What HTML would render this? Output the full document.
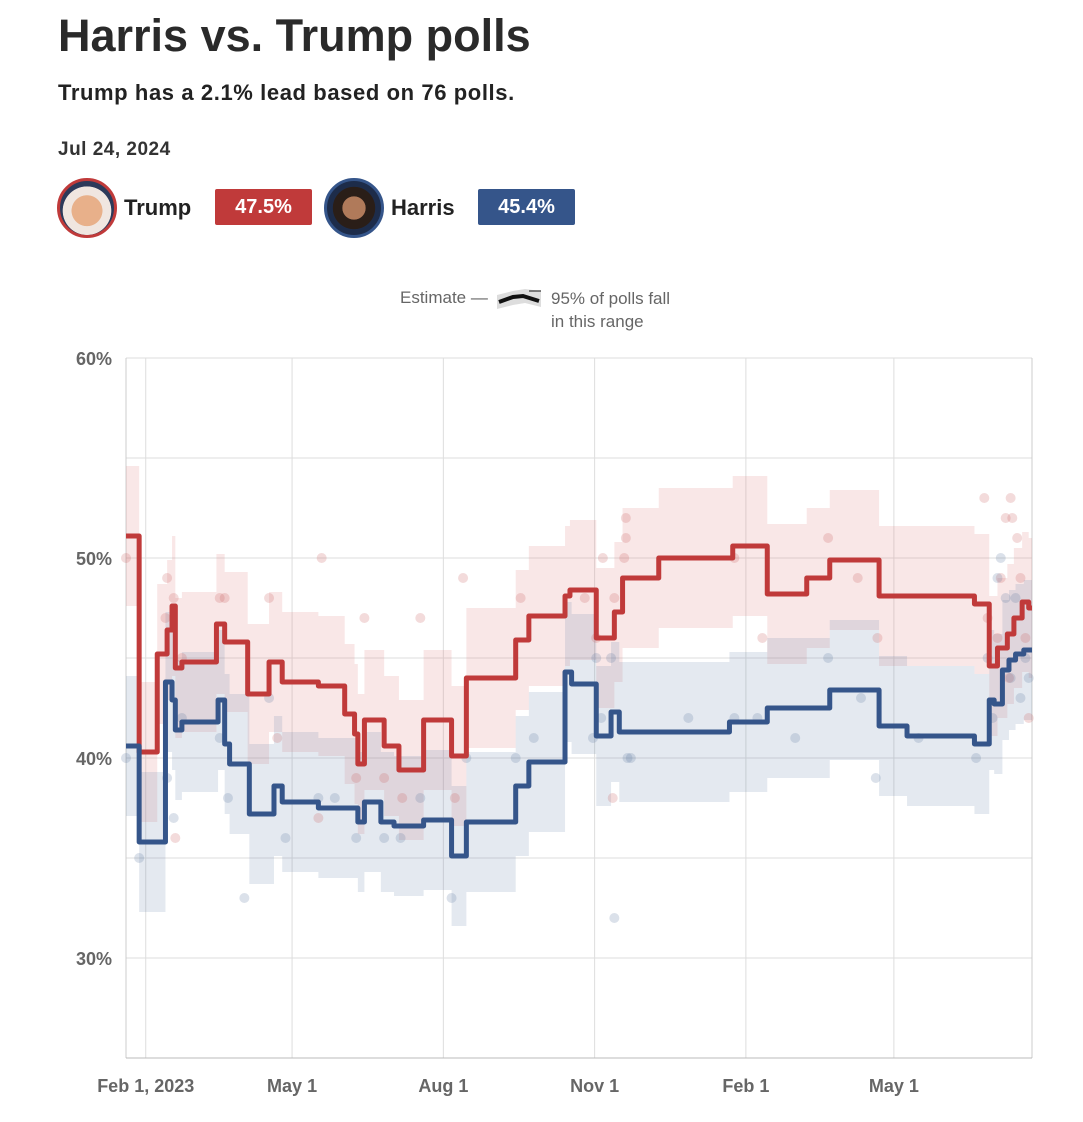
<!DOCTYPE html>
<html><head><meta charset="utf-8">
<style>
body{margin:0;background:#fff;font-family:"Liberation Sans",sans-serif;color:#333;}
#wrap{position:relative;width:1083px;height:1122px;overflow:hidden;}
.abs{position:absolute;white-space:nowrap;}
.badge{position:absolute;color:#fff;font-weight:bold;font-size:20px;text-align:center;line-height:36px;height:36px;border-radius:2px;}
.av{position:absolute;width:54px;height:54px;border-radius:50%;border:3px solid;overflow:hidden;}
</style></head><body>
<div id="wrap">
<div class="abs" style="left:58px;top:10px;font-size:45px;font-weight:bold;color:#2a2a2a">Harris vs. Trump polls</div>
<div class="abs" style="left:58px;top:80px;font-size:22px;font-weight:bold;color:#222;letter-spacing:0.6px">Trump has a 2.1% lead based on 76 polls.</div>
<div class="abs" style="left:58px;top:139px;font-size:19px;font-weight:bold;color:#333;letter-spacing:0.5px">Jul 24, 2024</div>
<div class="av" style="left:57px;top:178px;border-color:#c03a3a;background:radial-gradient(circle at 50% 55%,#e8b08a 0 38%,#f0e6e0 39% 60%,#2d3a5a 61%)"></div>
<div class="abs" style="left:124px;top:195px;font-size:22px;font-weight:bold;color:#222">Trump</div>
<div class="badge" style="left:215px;top:189px;width:97px;background:#c03a3a">47.5%</div>
<div class="av" style="left:324px;top:178px;border-color:#35558a;background:radial-gradient(circle at 50% 50%,#b07a5a 0 30%,#2a1e18 31% 55%,#1d2c4a 56%)"></div>
<div class="abs" style="left:391px;top:195px;font-size:22px;font-weight:bold;color:#222">Harris</div>
<div class="badge" style="left:478px;top:189px;width:97px;background:#35558a">45.4%</div>
<div class="abs" style="left:400px;top:288px;font-size:17px;color:#666">Estimate —</div>
<svg class="abs" style="left:495px;top:287px" width="50" height="24"><path d="M2,8 L18,4 L30,2 L46,4 L46,20 L30,16 L18,18 L2,22Z" fill="#ddd"/><path d="M4,15 L18,10 L28,9 L44,14" stroke="#111" stroke-width="4" fill="none"/><line x1="34" y1="4" x2="46" y2="4" stroke="#555" stroke-width="1.5"/></svg>
<div class="abs" style="left:551px;top:287px;font-size:17px;color:#666;line-height:23px;white-space:normal;width:170px">95% of polls fall<br>in this range</div>
<svg id="chart" class="abs" style="left:0;top:0" width="1083" height="1122"></svg>
</div>
<script>
const trumpDays=[-12,-4,7,13,16,18,22,43,48,62,75,83,105,121,127,129,133,145,154,169,186,195,225,233,255,258,274,285,290,312,357,378,402,416,446,504,513,518,524,528,533,537];
const trumpVals=[51.1,40.3,45.2,46.4,47.6,44.5,44.8,46.7,45.8,43.2,44.8,43.8,43.6,42.2,41.2,39.7,41.9,40.6,39.4,41.9,40.1,44.0,45.9,47.1,48.1,48.4,46.0,47.3,49.0,50.0,50.6,48.2,49.0,49.9,48.1,47.7,44.6,45.5,46.2,47.0,47.8,47.5];
const harrisDays=[-12,-4,12,16,18,22,44,48,51,63,78,83,105,129,133,143,151,169,186,195,225,233,255,259,274,283,288,355,378,416,446,463,504,513,516,521,525,529,534];
const harrisVals=[40.6,35.8,43.8,42.9,41.4,41.8,42.9,40.7,39.7,37.2,38.6,37.8,37.5,36.8,37.8,36.8,36.6,36.9,35.1,36.8,38.6,39.8,44.3,43.7,41.1,42.3,41.3,41.8,42.5,43.4,41.6,41.1,40.7,42.9,42.7,44.4,44.9,45.2,45.4];
const bandHalf=3.5;
const trumpPollDays=[-12,12,13,17,18,22,45,48,75,80,105,107,128,133,145,156,167,188,193,228,267,274,278,284,285,291,292,292,358,375,415,433,445,510,512,520,523,526,530,532,535,537,525,518,527];
const trumpPollVals=[50,47,49,48,36,45,48,48,48,41,37,50,39,47,39,38,47,38,49,48,48,46,50,38,48,50,51,52,50,46,51,49,46,53,47,49,52,53,51,49,46,42,44,46,52];
const harrisPollDays=[-12,-4,13,17,22,45,50,60,75,85,105,115,128,145,155,167,186,195,225,236,272,274,277,285,283,295,293,330,358,372,395,415,435,444,470,505,512,515,518,520,523,526,529,532,535,537];
const harrisPollVals=[40,35,39,37,42,41,38,33,43,36,38,38,36,36,36,38,33,40,40,41,41,45,42,32,45,40,40,42,42,42,41,45,43,39,41,40,45,42,49,50,48,44,48,43,45,44];
const yTicks=[30,40,50,60];
const yGrid=[30,35,40,45,50,55,60];
const xTickDays=[0,89,181,273,365,455];
const xTickLabels=["Feb 1, 2023","May 1","Aug 1","Nov 1","Feb 1","May 1"];
const X0=-12,X1=539,PL=126,PR=1032;
const xs=d=>PL+(d-X0)*(PR-PL)/(X1-X0);
const ys=v=>358+(60-v)*20;
const svg=document.getElementById('chart');const NS='http://www.w3.org/2000/svg';
function mk(t,a){const e=document.createElementNS(NS,t);for(const k in a)e.setAttribute(k,a[k]);svg.appendChild(e);return e;}
yGrid.forEach(v=>{const l=mk('line',{x1:PL,x2:PR,y1:ys(v),y2:ys(v),stroke:'#ddd','stroke-width':1});

});
xTickDays.forEach((d,i)=>{const l=mk('line',{x1:xs(d),x2:xs(d),y1:358,y2:1058,stroke:'#ddd','stroke-width':1});


const t=mk('text',{x:xs(d),y:1092,'text-anchor':'middle','font-size':18,'font-weight':'bold',fill:'#666','font-family':'Liberation Sans'});t.textContent=xTickLabels[i];

});
[PL,PR].forEach(x=>{const l=mk('line',{x1:x,x2:x,y1:358,y2:1058,stroke:'#ccc'});

});
const ax=mk('line',{x1:PL,x2:PR,y1:1058,y2:1058,stroke:'#bbb'});


yTicks.forEach(v=>{const t=mk('text',{x:112,y:ys(v)+7,'text-anchor':'end','font-size':18,'font-weight':'bold',fill:'#666','font-family':'Liberation Sans'});t.textContent=v+'%';

});
function stepPts(days,vals,off){let p=[];for(let i=0;i<days.length;i++){const nx=i+1<days.length?days[i+1]:X1;p.push([xs(days[i]),ys(vals[i]+off)],[xs(nx),ys(vals[i]+off)]);}return p;}
function band(days,vals,color,name){const up=stepPts(days,vals,bandHalf),lo=stepPts(days,vals,-bandHalf).reverse();
const b=mk('polygon',{points:up.concat(lo).map(p=>p.join(',')).join(' '),fill:color});

}
function line(days,vals,color,name){const p=stepPts(days,vals,0);
const l=mk('polyline',{points:p.map(q=>q.join(',')).join(' '),fill:'none',stroke:color,'stroke-width':5,'stroke-linejoin':'round'});

}
function dots(days,vals,color,name){days.forEach((d,i)=>{const c=mk('circle',{cx:xs(d),cy:ys(vals[i]),r:5,fill:color});

});}
band(trumpDays,trumpVals,'rgba(220,120,120,0.18)','trump-range-band');
band(harrisDays,harrisVals,'rgba(90,120,160,0.16)','harris-range-band');
dots(trumpPollDays,trumpPollVals,'rgba(200,90,90,0.22)','trump-poll-dot');
dots(harrisPollDays,harrisPollVals,'rgba(90,120,160,0.22)','harris-poll-dot');
line(trumpDays,trumpVals,'#c03a3a','trump-estimate-line');
line(harrisDays,harrisVals,'#35558a','harris-estimate-line');
</script>
</body></html>
